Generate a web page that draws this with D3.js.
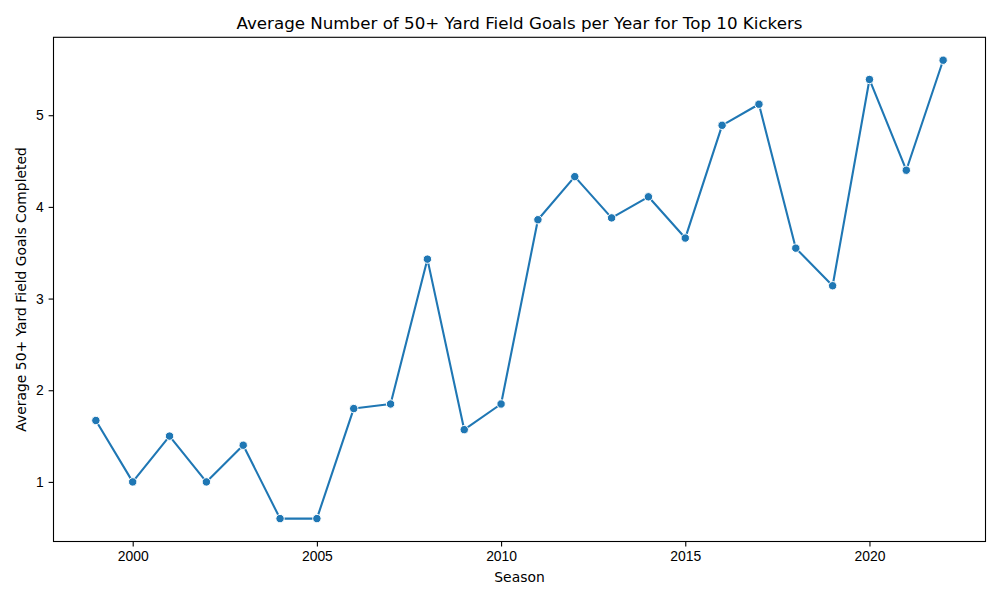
<!DOCTYPE html>
<html>
<head>
<meta charset="utf-8">
<script src="https://cdn.jsdelivr.net/npm/d3@7"></script>
<style>
  body { margin: 0; background: #fff; }
  svg { font-family: "DejaVu Sans", sans-serif; }
  .eje text { font-size: 13.9px; fill: #000; }
  .eje path, .eje line { stroke: #000; stroke-width: 1.1px; }
</style>
</head>
<body>
<div id="graf"></div>
<script>
// datos
const seasons = [1999, 2000, 2001, 2002, 2003, 2004, 2005, 2006, 2007, 2008, 2009, 2010,
  2011, 2012, 2013, 2014, 2015, 2016, 2017, 2018, 2019, 2020, 2021, 2022];
const avgLongFG = [1.67, 1.0, 1.5, 1.0, 1.4, 0.6, 0.6, 1.8, 1.85, 3.43, 1.57, 1.85,
  3.86, 4.33, 3.88, 4.11, 3.66, 4.89, 5.12, 3.55, 3.14, 5.39, 4.4, 5.6];
const xTicks = [2000, 2005, 2010, 2015, 2020];
const yTicks = [1, 2, 3, 4, 5];

const ancho_total = 1000;
const alto_total = 600;
const margins = { top: 37.3, left: 53.5, right: 14.5, bottom: 58.5 };
const ancho = ancho_total - margins.left - margins.right;
const alto = alto_total - margins.top - margins.bottom;

const data = seasons.map((s, i) => ({ season: s, value: avgLongFG[i] }));

const svg = d3.select("#graf")
  .append("svg")
  .attr("width", ancho_total)
  .attr("height", alto_total);

const g = svg.append("g")
  .attr("transform", `translate(${margins.left}, ${margins.top})`);

// margenes de 5% como matplotlib
const xExt = d3.extent(seasons);
const xPad = (xExt[1] - xExt[0]) * 0.05;
const yExt = d3.extent(avgLongFG);
const yPad = (yExt[1] - yExt[0]) * 0.05;

const x = d3.scaleLinear().domain([xExt[0] - xPad, xExt[1] + xPad]).range([0, ancho]);
const y = d3.scaleLinear().domain([yExt[0] - yPad, yExt[1] + yPad]).range([alto, 0]);

const xAxisCall = d3.axisBottom(x).tickValues(xTicks).tickFormat(d3.format("d"))
  .tickSize(4.9).tickPadding(4.9).tickSizeOuter(0);
const yAxisCall = d3.axisLeft(y).tickValues(yTicks).tickFormat(d3.format("d"))
  .tickSize(4.9).tickPadding(4.9).tickSizeOuter(0);

g.append("g")
  .attr("class", "eje")
  .attr("transform", `translate(0, ${alto})`)
  .call(xAxisCall)
  .call(s => s.select(".domain").remove());

g.append("g")
  .attr("class", "eje")
  .call(yAxisCall)
  .call(s => s.select(".domain").remove());

// marco
g.append("rect")
  .attr("width", ancho)
  .attr("height", alto)
  .attr("fill", "none")
  .attr("stroke", "#000")
  .attr("stroke-width", 1.1);

const linea = d3.line()
  .x(d => x(d.season))
  .y(d => y(d.value));

g.append("path")
  .datum(data)
  .attr("fill", "none")
  .attr("stroke", "#1f77b4")
  .attr("stroke-width", 2.1)
  .attr("stroke-linejoin", "round")
  .attr("d", linea);

g.selectAll("circle")
  .data(data)
  .enter()
  .append("circle")
  .attr("cx", d => x(d.season))
  .attr("cy", d => y(d.value))
  .attr("r", 4.2)
  .attr("fill", "#1f77b4")
  .attr("stroke", "#fff")
  .attr("stroke-width", 1);

// textos
svg.append("text")
  .attr("x", margins.left + ancho / 2)
  .attr("y", margins.top - 8.5)
  .attr("text-anchor", "middle")
  .style("font-size", "16.7px")
  .text("Average Number of 50+ Yard Field Goals per Year for Top 10 Kickers");

svg.append("text")
  .attr("x", margins.left + ancho / 2)
  .attr("y", 582)
  .attr("text-anchor", "middle")
  .style("font-size", "13.9px")
  .text("Season");

svg.append("text")
  .attr("transform", `translate(26, ${margins.top + alto / 2}) rotate(-90)`)
  .attr("text-anchor", "middle")
  .style("font-size", "13.9px")
  .text("Average 50+ Yard Field Goals Completed");
</script>
</body>
</html>
